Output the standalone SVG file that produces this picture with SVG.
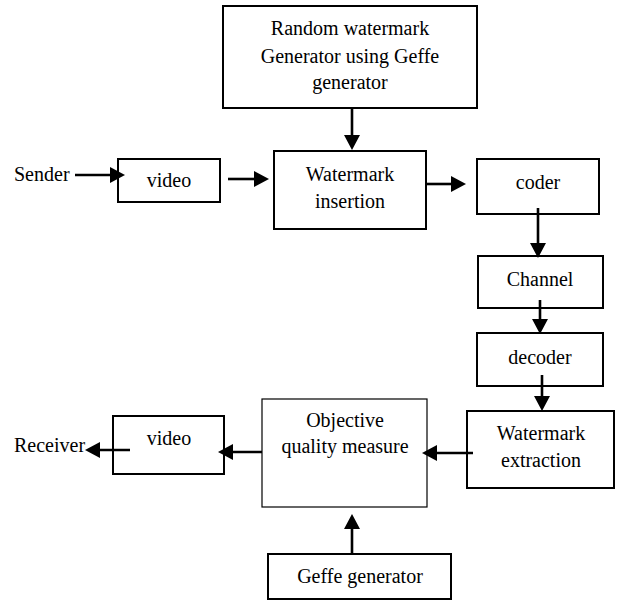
<svg xmlns="http://www.w3.org/2000/svg" width="619" height="601" viewBox="0 0 619 601">
<style>
.box{fill:#fff;stroke:#000;stroke-width:2}
.thin{fill:#fff;stroke:#000;stroke-width:1.2}
.t{font-family:"Liberation Serif","Times New Roman",serif;font-size:20px;fill:#000;text-anchor:middle}
.tl{font-family:"Liberation Serif","Times New Roman",serif;font-size:20px;fill:#000}
.arr{stroke:#000;stroke-width:2.6;fill:none;marker-end:url(#ah)}
</style>
<defs>
<marker id="ah" markerUnits="userSpaceOnUse" markerWidth="16" markerHeight="16" refX="4" refY="8" orient="auto">
<path d="M0,0 L15,8 L0,16 z" fill="#000"/>
</marker>
</defs>
<rect width="619" height="601" fill="#fff"/>
<g id="random-gen">
<rect class="box" x="223" y="6" width="254" height="102"/>
<text class="t" x="350" y="35">Random watermark</text>
<text class="t" x="350" y="63">Generator using Geffe</text>
<text class="t" x="350" y="89">generator</text>
</g>
<g id="sender"><text class="tl" x="14" y="181">Sender</text></g>
<g id="video-in">
<rect class="box" x="118" y="159" width="102" height="43"/>
<text class="t" x="169" y="187">video</text>
</g>
<g id="insertion">
<rect class="box" x="274" y="151" width="152" height="78"/>
<text class="t" x="350" y="181">Watermark</text>
<text class="t" x="350" y="208">insertion</text>
</g>
<g id="coder">
<rect class="box" x="477" y="159" width="122" height="55"/>
<text class="t" x="538" y="189">coder</text>
</g>
<g id="channel">
<rect class="box" x="478" y="256" width="125" height="52"/>
<text class="t" x="540" y="286">Channel</text>
</g>
<g id="decoder">
<rect class="box" x="477" y="333" width="126" height="53"/>
<text class="t" x="540" y="364">decoder</text>
</g>
<g id="extraction">
<rect class="box" x="467" y="411" width="147" height="77"/>
<text class="t" x="541" y="440">Watermark</text>
<text class="t" x="541" y="467">extraction</text>
</g>
<g id="objective">
<rect class="thin" x="262" y="399" width="165" height="108"/>
<text class="t" x="345" y="427">Objective</text>
<text class="t" x="345" y="453">quality measure</text>
</g>
<g id="video-out">
<rect class="box" x="113" y="416" width="111" height="58"/>
<text class="t" x="169" y="445">video</text>
</g>
<g id="receiver"><text class="tl" x="14" y="452">Receiver</text></g>
<g id="geffe">
<rect class="box" x="268" y="554" width="183" height="45"/>
<text class="t" x="360" y="583">Geffe generator</text>
</g>
<g id="connectors">
<line class="arr" x1="352" y1="108" x2="352" y2="139"/>
<line class="arr" x1="75" y1="175" x2="114" y2="175"/>
<line class="arr" x1="228" y1="179" x2="258" y2="179"/>
<line class="arr" x1="426" y1="184" x2="455" y2="184"/>
<line class="arr" x1="538" y1="208" x2="538" y2="247"/>
<line class="arr" x1="540" y1="300" x2="540" y2="323"/>
<line class="arr" x1="542" y1="375" x2="542" y2="400"/>
<line class="arr" x1="473" y1="453" x2="433" y2="453"/>
<line class="arr" x1="262" y1="452" x2="229" y2="452"/>
<line class="arr" x1="130" y1="450" x2="96" y2="450"/>
<line class="arr" x1="352" y1="554" x2="352" y2="525"/>
</g>
</svg>
